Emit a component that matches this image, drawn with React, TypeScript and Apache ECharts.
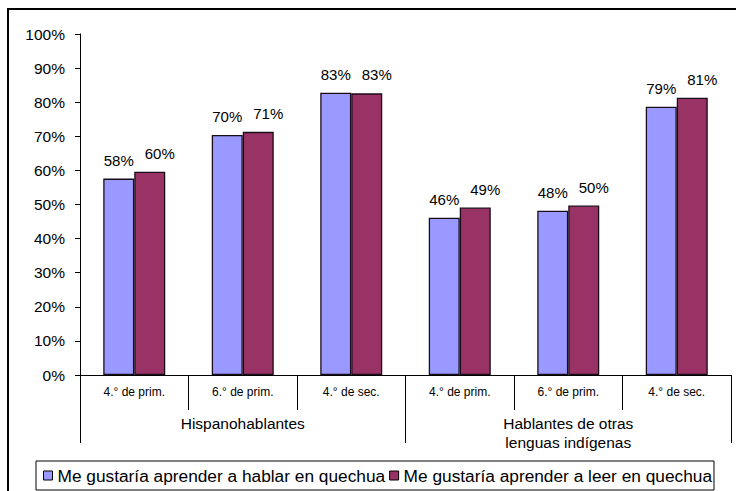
import React, { useEffect, useRef } from 'react';
import * as echarts from 'echarts';

const grades = ['4.° de prim.', '6.° de prim.', '4.° de sec.', '4.° de prim.', '6.° de prim.', '4.° de sec.'];
const groups = ['Hispanohablantes', 'Hablantes de otras\nlenguas indígenas'];
const seriesNames = ['Me gustaría aprender a hablar en quechua', 'Me gustaría aprender a leer en quechua'];
const hablar = [57.6, 70.4, 82.8, 46.1, 48.2, 78.7];
const leer = [59.6, 71.3, 82.6, 49.1, 49.7, 81.3];
const yMin = 0;
const yMax = 100;
const yStep = 10;

const FONT = 'Liberation Sans, Arial, sans-serif';

export default function App() {
  const ref = useRef<HTMLDivElement>(null);
  useEffect(() => {
    if (!ref.current) return;
    const chart = echarts.init(ref.current, null, { renderer: 'svg' });
    const makeLabel = (dx: number) => ({
      show: true,
      position: 'top',
      distance: 11,
      offset: [dx, 0],
      fontSize: 15,
      color: '#000',
      fontFamily: FONT,
      formatter: (p: any) => Math.round(p.value) + '%',
    });
    chart.setOption({
      animation: false,
      backgroundColor: '#fff',
      textStyle: { fontFamily: FONT },
      grid: { left: 80, right: 5, top: 34, bottom: 116, containLabel: false },
      graphic: [
        {
          type: 'rect',
          shape: { x: 8, y: 9, width: 760, height: 600 },
          style: { fill: 'none', stroke: '#000', lineWidth: 2 },
          silent: true,
        },
      ],
      legend: {
        data: seriesNames,
        left: 36,
        top: 461,
        orient: 'horizontal',
        icon: 'rect',
        itemWidth: 9,
        itemHeight: 9,
        itemGap: 4,
        padding: [6, 2, 6, 7],
        borderColor: '#000',
        borderWidth: 1,
        itemStyle: { borderColor: '#000', borderWidth: 1 },
        textStyle: { fontSize: 17.3, lineHeight: 16, color: '#000', fontFamily: FONT },
      },
      xAxis: [
        {
          type: 'category',
          data: grades,
          position: 'bottom',
          axisLine: { show: true, lineStyle: { color: '#000', width: 1 } },
          axisTick: { show: true, interval: 0, length: 35, lineStyle: { color: '#000' } },
          axisLabel: { interval: 0, margin: 11, fontSize: 12, color: '#000', fontFamily: FONT },
        },
        {
          type: 'category',
          data: groups,
          position: 'bottom',
          axisLine: { show: false },
          axisTick: { show: true, interval: 0, length: 68, lineStyle: { color: '#000' } },
          axisLabel: { interval: 0, margin: 39, fontSize: 15.5, lineHeight: 19, color: '#000', fontFamily: FONT },
        },
      ],
      yAxis: {
        type: 'value',
        min: yMin,
        max: yMax,
        interval: yStep,
        axisLine: { show: true, lineStyle: { color: '#000', width: 1 } },
        axisTick: { show: true, length: 5, lineStyle: { color: '#000' } },
        splitLine: { show: false },
        axisLabel: { formatter: '{value}%', margin: 15, fontSize: 15.5, color: '#000', fontFamily: FONT },
      },
      series: [
        {
          name: seriesNames[0],
          type: 'bar',
          xAxisIndex: 0,
          data: hablar,
          barWidth: 31,
          barGap: '0%',
          itemStyle: { color: '#9999FF', borderColor: '#1a0d1a', borderWidth: 1.3 },
          label: makeLabel(0),
        },
        {
          name: seriesNames[1],
          type: 'bar',
          xAxisIndex: 0,
          data: leer,
          barWidth: 31,
          barGap: '0%',
          itemStyle: { color: '#993366', borderColor: '#1a0d1a', borderWidth: 1.3 },
          label: makeLabel(10),
        },
      ],
    });
    return () => chart.dispose();
  }, []);
  return (
    <div
      ref={ref}
      style={{ position: 'absolute', left: 0, top: 0, width: 736, height: 491 }}
    />
  );
}
